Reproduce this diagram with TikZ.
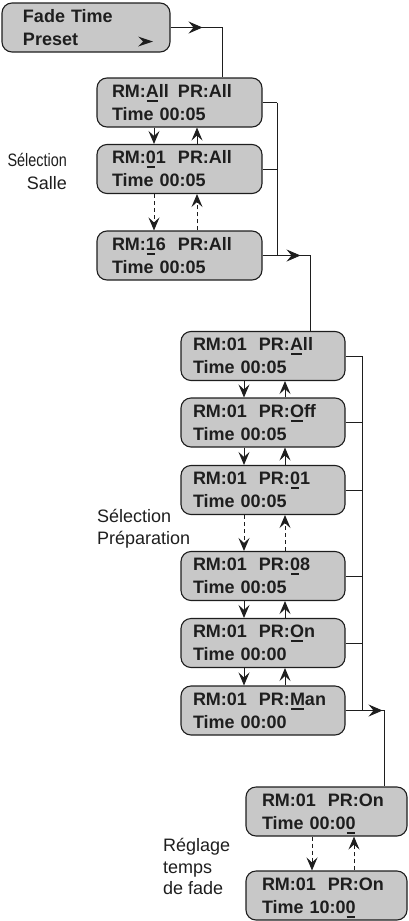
\documentclass[tikz,border=0pt]{standalone}
\usepackage{fontspec}
\setmainfont{Liberation Sans}
\usetikzlibrary{arrows.meta}
\definecolor{boxfill}{RGB}{200,200,200}
\definecolor{ink}{RGB}{30,30,30}
\newsavebox\ulcbox
\newcommand\ulc[1]{\sbox\ulcbox{#1}\rlap{\kern1pt\smash{\rule[-4.5pt]{\dimexpr\wd\ulcbox-2pt\relax}{2.2pt}}}\usebox\ulcbox\relax}
\newcommand\prx[2]{\makebox[66pt][l]{#1}#2}
\begin{document}
\begin{tikzpicture}[x=1pt,y=-1pt,
  lcd/.style={draw=ink, line width=1.1pt, fill=boxfill, rounded corners=10pt, minimum height=49pt, inner ysep=0pt, align=left, text=ink, font=\fontsize{18}{23}\selectfont\bfseries},
  lcdA/.style={lcd, inner xsep=15pt, text width=135pt},
  lcdB/.style={lcd, inner xsep=12pt, text width=140pt},
  lcdC/.style={lcd, inner xsep=16pt, text width=129pt},
  conn/.style={draw=ink, line width=1pt},
  tip/.style={-{Stealth[length=13pt,width=11pt,inset=5pt]}},
  htip/.style={-{Stealth[length=14pt,width=12pt,inset=5pt]}},
  dsh/.style={dash pattern=on 4pt off 3pt},
  lbl/.style={text=ink, inner sep=0pt}
]
\useasboundingbox (0,0) rectangle (408,921);

\node[lcd, inner xsep=21pt, text width=126pt] (b0) at (86,27.5) {Fade Time\\Preset};
\fill[ink] (138,36.5) -- (153,41.5) -- (138,46.5) -- (143,41.5) -- cycle;

\node[lcdA] (b1) at (179.5,102.5) {\prx{RM:\ulc{A}ll}{PR:All}\\Time 00:05};
\node[lcdA] (b2) at (179.5,169) {\prx{RM:\ulc{0}1}{PR:All}\\Time 00:05};
\node[lcdA] (b3) at (179.5,255.5) {\prx{RM:\ulc{1}6}{PR:All}\\Time 00:05};

\node[lcdB] (b4) at (263,356) {\prx{RM:01}{PR:\ulc{A}ll}\\Time 00:05};
\node[lcdB] (b5) at (263,422.5) {\prx{RM:01}{PR:\ulc{O}ff}\\Time 00:05};
\node[lcdB] (b6) at (263,490) {\prx{RM:01}{PR:\ulc{0}1}\\Time 00:05};
\node[lcdB] (b7) at (263,576) {\prx{RM:01}{PR:\ulc{0}8}\\Time 00:05};
\node[lcdB] (b8) at (263,643) {\prx{RM:01}{PR:\ulc{O}n}\\Time 00:00};
\node[lcdB] (b9) at (263,710.5) {\prx{RM:01}{PR:\ulc{M}an}\\Time 00:00};

\node[lcdC] (b10) at (326.5,811.5) {\prx{RM:01}{PR:On}\\Time 00:0\ulc{0}};
\node[lcdC] (b11) at (326.5,895.5) {\prx{RM:01}{PR:On}\\Time 10:0\ulc{0}};

\node[lbl, anchor=north east, align=right, font=\fontsize{18}{23}\selectfont] (lsalle) at (67,153.5) {\scalebox{0.8}[1]{Sélection}\\Salle};
\node[lbl, anchor=north west, align=left, font=\fontsize{18}{22}\selectfont] (lprep) at (97,509.5) {Sélection\\Préparation};
\node[lbl, anchor=north west, align=left, font=\fontsize{18}{21.5}\selectfont] (lfade) at (163,838.5) {Réglage\\temps\\de fade};

\coordinate (c0) at (222,0);
\coordinate (r1) at (277,0);
\coordinate (c1) at (310,0);
\coordinate (r2) at (362,0);
\coordinate (c2) at (384,0);
\coordinate (d1) at (154,0);
\coordinate (u1) at (197,0);
\coordinate (d2) at (244,0);
\coordinate (u2) at (285,0);
\coordinate (d3) at (312,0);
\coordinate (u3) at (354,0);

% main flow
\draw[conn] (b0.east) -- (b0.east -| c0) -- (b1.north -| c0);
\draw[conn,htip] (b0.east) -- ++(32,0);
\foreach \b in {b1,b2,b3} \draw[conn] (\b.east) -- (\b.east -| r1);
\draw[conn] (b1.east -| r1) -- (b3.east -| r1);
\draw[conn] (b3.east) -- (b3.east -| c1) -- (b4.north -| c1);
\draw[conn,htip] (b3.east) -- ++(38,0);
\foreach \b in {b4,b5,b6,b7,b8,b9} \draw[conn] (\b.east) -- (\b.east -| r2);
\draw[conn] (b4.east -| r2) -- (b9.east -| r2);
\draw[conn] (b9.east) -- (b9.east -| c2) -- (b10.north -| c2);
\draw[conn,htip] (b9.east) -- ++(37,0);

% up/down arrows
\draw[conn,tip] (b1.south -| d1) -- (b2.north -| d1);
\draw[conn,tip] (b2.north -| u1) -- (b1.south -| u1);
\draw[conn,tip,dsh] (b2.south -| d1) -- (b3.north -| d1);
\draw[conn,tip,dsh] (b3.north -| u1) -- (b2.south -| u1);

\draw[conn,tip] (b4.south -| d2) -- (b5.north -| d2);
\draw[conn,tip] (b5.north -| u2) -- (b4.south -| u2);
\draw[conn,tip] (b5.south -| d2) -- (b6.north -| d2);
\draw[conn,tip] (b6.north -| u2) -- (b5.south -| u2);
\draw[conn,tip,dsh] (b6.south -| d2) -- (b7.north -| d2);
\draw[conn,tip,dsh] (b7.north -| u2) -- (b6.south -| u2);
\draw[conn,tip] (b7.south -| d2) -- (b8.north -| d2);
\draw[conn,tip] (b8.north -| u2) -- (b7.south -| u2);
\draw[conn,tip] (b8.south -| d2) -- (b9.north -| d2);
\draw[conn,tip] (b9.north -| u2) -- (b8.south -| u2);

\draw[conn,tip,dsh] (b10.south -| d3) -- (b11.north -| d3);
\draw[conn,tip,dsh] (b11.north -| u3) -- (b10.south -| u3);
\end{tikzpicture}
\end{document}
